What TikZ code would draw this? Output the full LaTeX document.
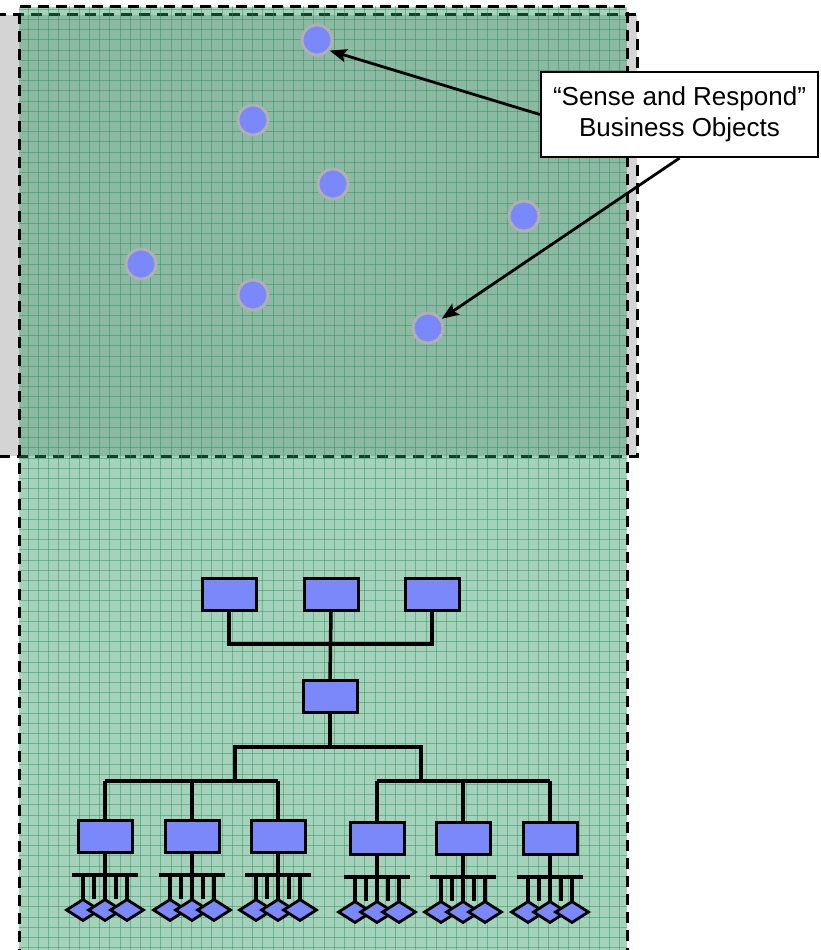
\documentclass[tikz,border=0pt]{standalone}
\usepackage{fontspec}
\setmainfont{Liberation Sans}
\usetikzlibrary{arrows.meta,shapes.geometric}
\definecolor{greyfill}{RGB}{212,212,212}
\definecolor{greenC}{RGB}{45,150,95}
\definecolor{gridC}{RGB}{40,140,90}
\definecolor{boxblue}{RGB}{122,136,250}
\definecolor{ringgrey}{RGB}{176,176,176}
\tikzset{
  frame/.style={draw=black, line width=3pt, dash pattern=on 11pt off 7pt},
  gridl/.style={draw=gridC, line width=1pt, opacity=0.45},
  obj/.style={circle, fill=boxblue, draw=ringgrey, line width=3pt, minimum size=30pt, inner sep=0pt},
  blk/.style={rectangle, fill=boxblue, draw=black, line width=3pt, minimum width=54pt, minimum height=32pt, inner sep=0pt},
  dia/.style={diamond, fill=boxblue, draw=black, line width=2.8pt, minimum width=34pt, minimum height=22pt, inner sep=0pt},
  conn/.style={draw=black, line width=3.5pt},
  tooth/.style={draw=black, line width=3.2pt},
  arr/.style={draw=black, line width=2.8pt, -{Stealth[length=17pt,width=13pt,inset=3pt]}},
  callout/.style={rectangle, draw=black, line width=2.2pt, fill=white, minimum width=277pt, minimum height=85pt, align=center, font=\fontsize{26}{30.5}\selectfont}
}
\begin{document}
\begin{tikzpicture}[x=1pt,y=-1pt]
\useasboundingbox (0,0) rectangle (821,950);
\clip (0,0) rectangle (821,950);
% grey back panel
\path[fill=greyfill] (-10,15) rectangle (637,456);
\draw[frame] (-10,15) rectangle (637,456);
% green panel
\path[fill=greenC, fill opacity=0.43] (19,7) rectangle (627,960);
\begin{scope}
  \clip (19,7) rectangle (627,960);
  \foreach \i in {0,...,60} \draw[gridl] (28.3+10.2*\i,0) -- (28.3+10.2*\i,960);
  \foreach \i in {0,...,93} \draw[gridl] (0,9.3+10.2*\i) -- (640,9.3+10.2*\i);
\end{scope}
\draw[frame] (19,960) -- (19,7) -- (627,7) -- (627,960);
% sense and respond objects
\node[obj] (c1) at (317,40) {};
\node[obj] (c2) at (253,120) {};
\node[obj] (c3) at (333,184) {};
\node[obj] (c4) at (524,216) {};
\node[obj] (c5) at (141,264) {};
\node[obj] (c6) at (253,295) {};
\node[obj] (c7) at (428,328) {};
\node[callout] (call) at (679.5,114.5) {“Sense and Respond”\\Business Objects};
\draw[arr] (call.west) -- (c1.-40);
\draw[arr] (call.south) -- (c7);
% hierarchy
\node[blk] (t1) at (229,594.5) {};
\node[blk] (t2) at (331,594.5) {};
\node[blk] (t3) at (432,594.5) {};
\node[blk] (m) at (330,696.5) {};
\coordinate (h1) at (330,644);
\draw[conn] (t1.south) -- (t1.south |- h1) -- (t3.south |- h1) -- (t3.south);
\draw[conn] (t2.south) -- (m.north);
\coordinate (h2) at (330,747);
\coordinate (gl) at (235,781);
\coordinate (gr) at (421,781);
\draw[conn] (m.south) -- (h2);
\draw[conn] (gl) -- (gl |- h2) -- (gr |- h2) -- (gr);
\foreach \n/\x/\y in {b1/105/836.5, b2/192/836.5, b3/278/836.5, b4/377/838.5, b5/463/838.5, b6/550/838.5}{
  \node[blk] (\n) at (\x,\y) {};
}
\draw[conn] (b1.north |- gl) -- (b3.north |- gl);
\draw[conn] (b4.north |- gr) -- (b6.north |- gr);
\foreach \n in {b1,b2,b3}{ \draw[conn] (\n.north |- gl) -- (\n.north); }
\foreach \n in {b4,b5,b6}{ \draw[conn] (\n.north |- gr) -- (\n.north); }
\foreach \n in {b1,b2,b3,b4,b5,b6}{
  \draw[conn] (\n.south) -- ++(0,21) coordinate (\n bar);
  \draw[conn] ([xshift=-33pt]\n bar) -- ([xshift=33pt]\n bar);
  \foreach \o in {-22,-11,0,11,22}{
    \draw[tooth] ([xshift=\o pt]\n bar) -- ++(0,24);
  }
  \foreach \o [count=\k] in {-22,0,22}{
    \node[dia] (\n d\k) at ([xshift=\o pt,yshift=-35pt]\n bar) {};
  }
}
\end{tikzpicture}
\end{document}
